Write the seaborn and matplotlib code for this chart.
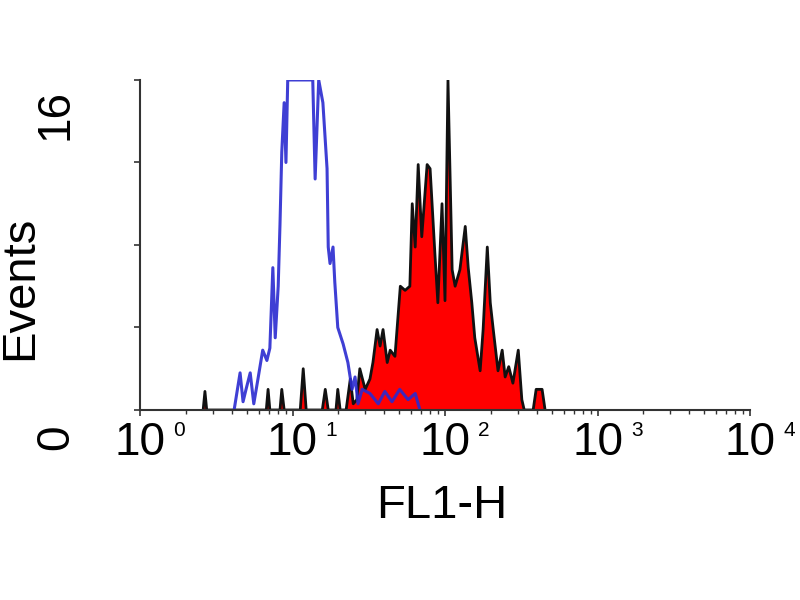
import numpy as np
import pandas as pd
import matplotlib
matplotlib.use("Agg")
import matplotlib.pyplot as plt
import seaborn as sns

# isotype control (blue outline), channel on a 1024-channel / 4-decade log scale
blue_channel = [158, 168, 173, 178, 185, 191, 198, 206, 213, 218,
                223, 227, 232, 235, 238, 242, 245, 248, 290, 294,
                300, 307, 314, 316, 319, 324, 327, 332, 341, 349,
                356, 361, 366, 373, 386, 400, 411, 423, 436, 450,
                462, 470]
blue_events = [0, 1.8, 0.4, 1.0, 1.8, 0.3, 1.5, 2.9, 2.4, 3.0,
               6.9, 3.5, 6.0, 9.0, 12.5, 14.9, 12.0, 16, 16, 11.2,
               16, 14.9, 11.7, 7.9, 7.1, 7.9, 6.2, 4.0, 3.2, 2.3,
               1.0, 1.6, 0.3, 1.0, 0.8, 0.3, 0.9, 0.4, 1.0, 0.5,
               0.8, 0]

# stained sample (red fill, black outline)
red_channel = [106, 109, 112, 212, 215, 218, 235, 238, 242, 269,
               274, 279, 306, 311, 316, 329, 332, 336, 346, 353,
               358, 364, 369, 378, 386, 391, 398, 403, 408, 415,
               420, 428, 437, 445, 453, 457, 462, 467, 473, 482,
               487, 495, 500, 507, 512, 517, 524, 529, 537, 546,
               551, 557, 562, 571, 576, 583, 588, 593, 601, 608,
               613, 619, 626, 635, 641, 645, 660, 665, 675, 680]
red_events = [0, 0.9, 0, 0, 1.0, 0, 0, 1.0, 0, 0,
              2.0, 0, 0, 1.0, 0, 0, 1.0, 0, 0, 1.5,
              0.3, 0.5, 2.0, 1.0, 1.5, 2.3, 3.9, 3.1, 3.9, 2.3,
              2.9, 2.6, 6.0, 5.8, 6.0, 10.0, 7.9, 11.9, 8.4, 11.9,
              11.7, 7.6, 5.2, 10.0, 5.3, 16, 6.8, 6.0, 6.8, 8.9,
              6.9, 5.2, 3.5, 1.9, 3.9, 7.9, 5.2, 3.9, 1.9, 2.9,
              1.6, 2.1, 1.3, 2.9, 0.5, 0, 0, 1.0, 1.0, 0]

decades = [0, 1, 2, 3, 4]
decade_sups = ["0", "1", "2", "3", "4"]
y_ticks = [0, 4, 8, 12, 16]
y_tick_labels = ["0", "", "", "", "16"]

sns.set_theme(style="ticks")
plt.rcParams["font.family"] = ["Liberation Sans", "DejaVu Sans"]

blue = pd.DataFrame({"FL1-H": 10 ** (np.array(blue_channel) / 256), "Events": blue_events})
red = pd.DataFrame({"FL1-H": 10 ** (np.array(red_channel) / 256), "Events": red_events})

fig = plt.figure(figsize=(8, 6), dpi=100)
ax = fig.add_axes([0.175, 0.3167, 0.7625, 0.55])

ax.fill_between(red["FL1-H"], red["Events"], color="#ff0000", lw=0)
sns.lineplot(data=red, x="FL1-H", y="Events", estimator=None, sort=False,
             color="#111111", lw=2.0, ax=ax)
sns.lineplot(data=blue, x="FL1-H", y="Events", estimator=None, sort=False,
             color="#2a2ad0", lw=2.2, alpha=0.9, ax=ax)

ax.set_xscale("log")
ax.set_xlim(10 ** decades[0], 10 ** decades[-1])
ax.set_ylim(y_ticks[0], y_ticks[-1])

sns.despine(ax=ax)
for side in ["left", "bottom"]:
    ax.spines[side].set_color("#333333")
    ax.spines[side].set_linewidth(1.5)

ax.set_xticks([10 ** d for d in decades])
ax.set_xticklabels([])
ax.set_yticks(y_ticks)
ax.set_yticklabels([])
ax.tick_params(axis="both", which="major", length=4, width=1.2, color="#333333")
ax.tick_params(axis="x", which="minor", length=3, width=1.0, color="#333333")

# decade labels: "10" centred on the tick, exponent set off to the right
for d, s in zip(decades, decade_sups):
    ax.annotate("10", xy=(10 ** d, 0), xycoords=("data", "axes fraction"),
                xytext=(0, -8), textcoords="offset points",
                ha="center", va="top", fontsize=33, color="black")
    ax.annotate(s, xy=(10 ** d, 0), xycoords=("data", "axes fraction"),
                xytext=(24, -8), textcoords="offset points",
                ha="left", va="top", fontsize=15, color="black")

for v, lab in zip(y_ticks, y_tick_labels):
    if lab:
        dy = -24.5 if v == y_ticks[-1] else -19.5
        ax.annotate(lab, xy=(0, v), xycoords=("axes fraction", "data"),
                    xytext=(-60.5, dy), textcoords="offset points",
                    ha="center", va="center", rotation=90,
                    fontsize=33, color="black")

ax.set_ylabel("Events", fontsize=34, color="black")
ax.yaxis.set_label_coords(-0.160, 0.37)
ax.set_xlabel("FL1-H", fontsize=34, color="black")
ax.xaxis.set_label_coords(0.495, -0.225)

fig.savefig("out.png", dpi=100)
